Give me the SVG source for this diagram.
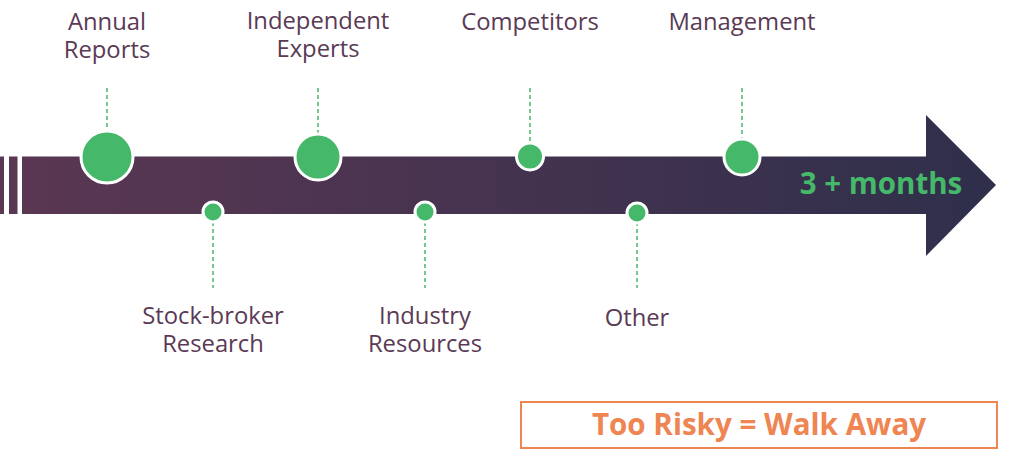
<svg xmlns="http://www.w3.org/2000/svg" width="1024" height="461" viewBox="0 0 1024 461">
<defs>
<linearGradient id="bar" x1="0" y1="0" x2="1" y2="0">
<stop offset="0" stop-color="#5a3753"/>
<stop offset="1" stop-color="#2f2f4b"/>
</linearGradient>
<style>
.lbl{font-family:"Open Sans","Liberation Sans",sans-serif;font-size:23.8px;fill:#5a3a55;text-anchor:middle}
.dash{stroke:#45b86a;stroke-width:1.5;stroke-dasharray:4 3;fill:none}
.dot{fill:#45b86a;stroke:#ffffff;stroke-width:3}
</style>
</defs>
<rect width="1024" height="461" fill="#ffffff"/>
<g id="timeline">
<rect x="0" y="156.5" width="4" height="57.5" fill="#5a3753"/>
<rect x="9" y="156.5" width="8.5" height="57.5" fill="#5a3753"/>
<path d="M22 156.5 H926 V115 L996 185 L926 256 V214 H22 Z" fill="url(#bar)"/>
<text x="881" y="194" font-family="'Open Sans','Liberation Sans',sans-serif" font-size="29.5" font-weight="bold" fill="#45b86a" text-anchor="middle">3 + months</text>
</g>
<g id="connectors">
<line class="dash" x1="107" y1="88" x2="107" y2="130"/>
<line class="dash" x1="318" y1="88" x2="318" y2="133"/>
<line class="dash" x1="530" y1="88" x2="530" y2="142"/>
<line class="dash" x1="742" y1="88" x2="742" y2="138"/>
<line class="dash" x1="213" y1="222" x2="213" y2="288"/>
<line class="dash" x1="425" y1="222" x2="425" y2="288"/>
<line class="dash" x1="637" y1="222" x2="637" y2="288"/>
</g>
<g id="annual-reports">
<circle class="dot" cx="107" cy="157" r="26"/>
<text class="lbl" x="107" y="30">Annual</text>
<text class="lbl" x="107" y="58">Reports</text>
</g>
<g id="independent-experts">
<circle class="dot" cx="318" cy="157" r="23"/>
<text class="lbl" x="318" y="29">Independent</text>
<text class="lbl" x="318" y="57">Experts</text>
</g>
<g id="competitors">
<circle class="dot" cx="530" cy="156.5" r="13.5"/>
<text class="lbl" x="530" y="30">Competitors</text>
</g>
<g id="management">
<circle class="dot" cx="742" cy="157" r="18"/>
<text class="lbl" x="742" y="30">Management</text>
</g>
<g id="stock-broker-research">
<circle class="dot" cx="213" cy="212" r="10"/>
<text class="lbl" x="213" y="324">Stock-broker</text>
<text class="lbl" x="213" y="352">Research</text>
</g>
<g id="industry-resources">
<circle class="dot" cx="425" cy="212" r="10"/>
<text class="lbl" x="425" y="324">Industry</text>
<text class="lbl" x="425" y="352">Resources</text>
</g>
<g id="other">
<circle class="dot" cx="637" cy="213" r="10"/>
<text class="lbl" x="637" y="326">Other</text>
</g>
<g id="too-risky">
<rect x="521" y="402" width="476" height="46" fill="none" stroke="#ee8553" stroke-width="2"/>
<text x="759" y="435" font-family="'Open Sans','Liberation Sans',sans-serif" font-size="29.6" font-weight="bold" fill="#ee8553" text-anchor="middle">Too Risky = Walk Away</text>
</g>
</svg>
